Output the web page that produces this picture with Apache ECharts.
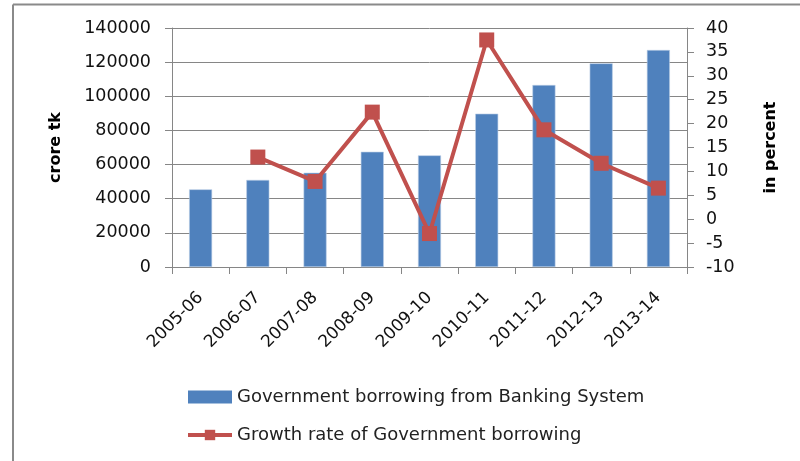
<!DOCTYPE html>
<html>
<head>
<meta charset="utf-8">
<script src="https://cdn.jsdelivr.net/npm/echarts@6/dist/echarts.min.js"></script>
<style>html,body{margin:0;padding:0;background:#fff}#c{width:800px;height:461px}</style>
</head>
<body>
<div id="c"></div>
<script>
const categories = ['2005-06','2006-07','2007-08','2008-09','2009-10','2010-11','2011-12','2012-13','2013-14'];
const borrowing = [45500, 51000, 55200, 67500, 65400, 89800, 106600, 119300, 127100];
const growthRate = [null, 13.0, 7.9, 22.4, -3.0, 37.5, 18.7, 11.7, 6.5];
const leftTicks = {min: 0, max: 140000, interval: 20000};
const rightTicks = {min: -10, max: 40, interval: 5};
const seriesNames = ['Government borrowing from Banking System', 'Growth rate of Government borrowing'];

const FONT = 'DejaVu Sans';
const axisGray = '#868686';
const chart = echarts.init(document.getElementById('c'));
chart.setOption({
  animation: false,
  backgroundColor: '#fff',
  grid: {left: 172, right: 113, top: 28, bottom: 194, containLabel: false},
  graphic: [
    {type: 'line', shape: {x1: 13, y1: 4.5, x2: 800, y2: 4.5}, style: {stroke: '#8a8a8a', lineWidth: 2}},
    {type: 'line', shape: {x1: 13, y1: 4.5, x2: 13, y2: 461}, style: {stroke: '#8a8a8a', lineWidth: 2}}
  ],
  legend: {
    orient: 'vertical', left: 186, top: 388, padding: 0,
    itemWidth: 44, itemHeight: 13, itemGap: 20,
    textStyle: {fontFamily: FONT, fontSize: 18, color: '#222'},
    data: [
      {name: seriesNames[0], icon: 'rect', itemStyle: {borderWidth: 0}},
      {name: seriesNames[1], lineStyle: {width: 4}}
    ]
  },
  xAxis: {
    type: 'category', data: categories, boundaryGap: true,
    axisLine: {show: true, lineStyle: {color: axisGray, width: 1}},
    axisTick: {show: true, length: 7, lineStyle: {color: axisGray}},
    axisLabel: {rotate: 45, margin: 28, fontFamily: FONT, fontSize: 17, color: '#111', interval: 0}
  },
  yAxis: [
    {
      type: 'value', min: leftTicks.min, max: leftTicks.max, interval: leftTicks.interval,
      name: 'crore tk', nameLocation: 'middle', nameRotate: 90, nameGap: 108,
      nameTextStyle: {fontFamily: FONT, fontSize: 16, fontWeight: 'bold', color: '#000'},
      axisLine: {show: true, lineStyle: {color: axisGray, width: 1}},
      axisTick: {show: true, length: 7, lineStyle: {color: axisGray}},
      axisLabel: {margin: 21, fontFamily: FONT, fontSize: 17.5, color: '#111', formatter: v => String(v)},
      splitLine: {show: true, lineStyle: {color: axisGray, width: 1}}
    },
    {
      type: 'value', min: rightTicks.min, max: rightTicks.max, interval: rightTicks.interval,
      position: 'right',
      name: 'in percent', nameLocation: 'middle', nameRotate: 90, nameGap: 76,
      nameTextStyle: {fontFamily: FONT, fontSize: 16, fontWeight: 'bold', color: '#000'},
      axisLine: {show: true, lineStyle: {color: axisGray, width: 1}},
      axisTick: {show: true, length: 7, lineStyle: {color: axisGray}},
      axisLabel: {margin: 19, fontFamily: FONT, fontSize: 17.5, color: '#111'},
      splitLine: {show: false}
    }
  ],
  series: [
    {
      name: seriesNames[0], type: 'bar', data: borrowing, barWidth: 23,
      itemStyle: {color: '#4F81BD', borderColor: '#b9cde5', borderWidth: 0.6}
    },
    {
      name: seriesNames[1], type: 'line', yAxisIndex: 1, data: growthRate,
      symbol: 'rect', symbolSize: 15,
      lineStyle: {color: '#C0504D', width: 4},
      itemStyle: {color: '#C0504D'}
    }
  ]
});
</script>
</body>
</html>
